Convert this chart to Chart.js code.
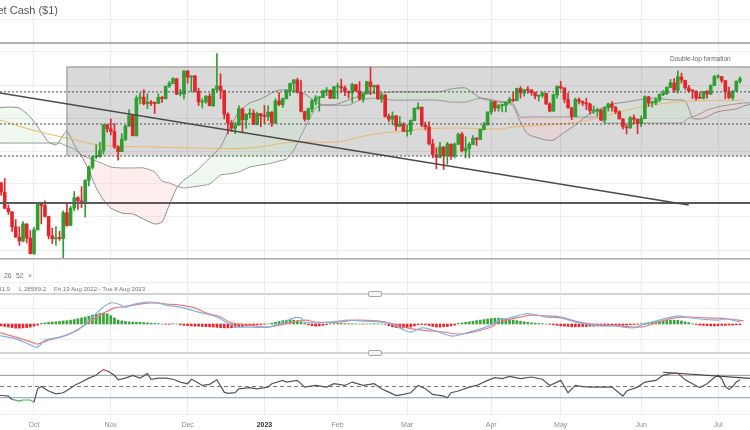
<!DOCTYPE html>
<html>
<head>
<meta charset="utf-8">
<script src="https://cdn.jsdelivr.net/npm/chart.js@4.4.0/dist/chart.umd.min.js"></script>
<style>
  body { margin: 0; width: 750px; height: 430px; overflow: hidden; background: #fff; position: relative;
         font-family: "Liberation Sans", Arial, sans-serif; }
  canvas { position: absolute; left: 0; }
  .txt { position: absolute; white-space: nowrap; color: #777; z-index: 5; }
  .sep { position: absolute; left: 0; width: 750px; height: 2px; background: #d5d5d5; z-index: 4; }
  .grip { position: absolute; left: 368px; width: 12px; height: 4px; border: 1px solid #a8a8a8; border-radius: 2px;
          background: #f3f3f3; z-index: 6; }
</style>
</head>
<body>
<canvas id="main" width="750" height="293" style="top:0"></canvas>
<canvas id="macd" width="750" height="55" style="top:296px"></canvas>
<canvas id="rsi" width="750" height="80" style="top:355px"></canvas>

<div class="txt" style="left:-140px;width:198px;text-align:right;top:4px;font-size:11px;color:#555">Wall Street Cash ($1)</div>
<div class="txt" style="left:-60px;top:272px;font-size:6.8px">Ichimoku 9</div>
<div class="txt" style="left:4px;top:272px;font-size:6.8px">26</div>
<div class="txt" style="left:16px;top:272px;font-size:6.8px">52</div>
<div class="txt" style="left:28px;top:272px;font-size:6.8px">×</div>
<div class="txt" style="left:-60px;width:70px;text-align:right;top:285px;font-size:6.2px">H 35641.9</div>
<div class="txt" style="left:19px;top:285px;font-size:6.2px">L 28589.2</div>
<div class="txt" style="left:54px;top:285px;font-size:6.1px">Fri 19 Aug 2022 - Tue 8 Aug 2023</div>
<div class="txt" style="left:670px;top:55px;font-size:6.5px;color:#666">Double-top formation</div>

<div class="sep" style="top:293px"></div><div class="grip" style="top:291px"></div>
<div class="sep" style="top:352px"></div><div class="grip" style="top:350px"></div>

<script>
// Wall Street Cash, daily candles 19 Sep 2022 .. 12 Jul 2023 (trading-day index 0..203)
const open = [
  30800,31000,30700,30180,30070,29590,29260,29130,29680,29230,
  28730,29490,30310,30270,29920,29300,29200,29240,29210,30040,
  29630,30190,30520,30420,30330,31080,31500,31840,31840,32030,
  32860,32730,32650,32150,32000,32400,32830,33160,32510,33720,
  33750,33540,33590,33550,33550,33740,33700,34100,34190,34340,
  33850,33850,34590,34390,34430,33940,33590,33600,33780,33470,
  34000,34100,33960,33200,32920,32750,32850,33370,33020,33200,
  33240,32870,33220,33140,33130,33260,32930,33630,33510,33700,
  33970,34190,34300,33910,33290,33040,33370,33630,33730,33740,
  33950,33970,33710,34080,34090,34050,33920,33890,34150,33940,
  33690,33860,34240,34080,34120,33690,33820,33130,33040,33150,
  32810,32880,32650,32660,33000,33390,33430,32850,32790,32250,
  31900,31820,32150,31870,32240,31860,32240,32560,32030,32100,
  32230,32430,32390,32710,32860,33270,33600,33400,33480,33480,
  33580,33680,33640,34030,33880,33980,33970,33890,33780,33800,
  33870,33530,33300,33820,34090,34050,33680,33410,33120,33670,
  33610,33560,33530,33300,33300,33340,33010,33410,33530,33420,
  33280,33050,32790,32760,33090,33040,32900,33060,33760,33560,
  33570,33660,33830,33870,34060,34210,33970,34400,34290,34050,
  33950,33940,33720,33710,33920,33850,34120,34400,34410,34280,
  33920,33730,33940,34260
];
const high = [
  31050,31010,31140,30290,30080,29820,29590,29760,29690,29470,
  29570,30330,30340,30420,29930,29540,29600,29450,30100,30360,
  30250,30720,30560,30880,31100,31550,31850,32220,32300,32880,
  32880,33050,32900,32200,32580,32850,33350,33170,33800,33880,
  33990,33860,33650,33600,33860,33780,34110,34260,34380,34350,
  34000,34600,34600,34440,34450,34040,33700,33800,33860,34030,
  35150,34500,33970,33250,33000,32950,33480,33400,33220,33380,
  33350,33270,33230,33480,33470,33290,33700,33900,33720,33980,
  34200,34320,34360,34300,33300,33400,33680,33800,33760,33980,
  34060,33990,34100,34200,34330,34110,33950,34200,34160,34250,
  33900,34260,34720,34140,34150,33860,33830,33210,33280,33160,
  33130,32930,32860,33020,33410,33570,33430,32950,32960,32400,
  32130,32300,32160,32300,32250,32280,32600,32620,32480,32300,
  32520,32460,32730,32940,33280,33620,33620,33520,33530,33600,
  33750,33900,34040,34090,34000,34090,34000,33910,33830,33920,
  33880,33570,33850,34110,34260,34050,33880,33420,33720,33730,
  33630,33720,33560,33470,33400,33350,33440,33560,33610,33460,
  33310,33060,32880,33130,33180,33050,33150,33790,33780,33630,
  33720,33860,33960,34080,34320,34350,34590,34520,34300,34130,
  33990,33950,33900,33940,33970,34150,34450,34470,34420,34290,
  34070,33960,34280,34400
];
const low = [
  30700,30600,30170,29990,29440,29250,29000,29100,29070,28715,
  28700,29490,29680,29900,29200,29050,29000,29150,28589,29600,
  29630,30100,30150,30200,29900,30900,31440,31770,31820,31920,
  32630,32540,32100,31730,32000,32350,32800,32500,32500,33530,
  33500,33380,33480,33230,33540,33580,33690,34060,34180,33830,
  33790,33690,34200,33920,33910,33480,33400,33550,33470,33450,
  33900,33700,33050,32570,32650,32580,32850,32600,32750,33080,
  32870,32860,32800,32900,33000,32810,32900,33480,33420,33690,
  33800,33900,33880,33280,32980,33030,33280,33500,33300,33730,
  33800,33700,33700,33700,33900,33800,33720,33580,33940,33650,
  33590,33860,33830,33860,33680,33580,33110,32960,32870,32680,
  32800,32640,32500,32550,32990,33350,32800,32700,32220,31800,
  31450,31800,31429,31600,31750,31800,32230,31990,31800,31800,
  32230,32200,32390,32700,32850,33200,33300,33300,33280,33280,
  33560,33600,33630,33720,33780,33870,33810,33690,33630,33740,
  33520,33280,33300,33720,34000,33570,33390,33030,33120,33530,
  33480,33350,33210,33220,33140,33000,32930,33300,33300,33220,
  33040,32720,32570,32750,32890,32580,32800,33060,33450,33430,
  33500,33600,33800,33830,34050,33900,33880,34200,34000,33900,
  33700,33650,33700,33690,33720,33830,34120,34350,34220,33700,
  33700,33660,33930,34200
];
const close = [
  31019,30706,30184,30077,29590,29260,29135,29684,29226,28726,
  29491,30317,30274,29927,29297,29203,29240,29211,30039,29635,
  30186,30524,30424,30334,31083,31500,31837,31840,32034,32862,
  32733,32653,32148,32001,32403,32827,33161,32514,33716,33748,
  33537,33593,33554,33547,33746,33700,34098,34195,34347,33850,
  33853,34590,34395,34430,33947,33596,33598,33781,33476,34006,
  34108,33966,33203,32920,32758,32850,33377,33027,33204,33241,
  32876,33221,33147,33136,33270,32930,33631,33518,33704,33974,
  34190,34303,33911,33297,33045,33375,33630,33734,33744,33949,
  33978,33717,34086,34093,34053,33926,33891,34156,33949,33699,
  33869,34246,34089,34128,33697,33827,33130,33045,33154,32817,
  32889,32657,32662,33004,33391,33432,32856,32798,32255,31910,
  31820,32155,31875,32247,31862,32245,32561,32030,32106,32238,
  32433,32395,32718,32860,33274,33601,33403,33483,33486,33587,
  33685,33647,34030,33887,33987,33977,33897,33787,33809,33876,
  33531,33302,33827,34098,34051,33684,33415,33128,33675,33619,
  33562,33531,33310,33301,33349,33012,33420,33535,33427,33286,
  33056,32800,32765,33093,33043,32908,33061,33763,33563,33573,
  33665,33834,33877,34066,34212,33979,34408,34299,34054,33952,
  33946,33727,33715,33927,33853,34122,34408,34418,34288,33922,
  33735,33944,34262,34347
];

// month ticks (first trading day of each month)
const monthTickIdx = [10, 31, 52, 73, 93, 112, 135, 154, 176, 197];
const monthTickLabels = ['Oct', 'Nov', 'Dec', '2023', 'Feb', 'Mar', 'Apr', 'May', 'Jun', 'Jul'];

// Ichimoku cloud
const cloudIdx = [0,3,6,9,12,14,16,17,19,21,23,25,27,29,31,34,37,40,43,45,47,49,51,53,55,58,61,63,66,69,
  72,75,77,79,81,84,87,89,92,96,99,101,103,105,108,112,115,118,120,122,124,126,128,130,132,134,137,139,140,141,
  143,145,150,152,154,156,158,160,162,164,166,168,172,175,177,180,182,185,187,188,189,190,192,194,196,198,200,202,204,206];
const spanA = [33402,33434,33402,33113,32632,32311,32215,32343,32664,32215,31861,31412,30834,30449,30192,30032,30000,29839,29679,29743,
  30289,30834,31091,31252,31444,31797,32150,32632,33274,33563,33691,33884,33980,33980,33948,33852,33595,33499,33499,33659,
  33787,33852,33884,33884,33916,33916,33916,33916,33916,33948,34012,34044,34044,33884,33723,33659,33595,33563,33531,33466,
  32953,32568,32375,32375,32536,32696,32857,33049,33210,33338,33434,33531,33595,33659,33691,33723,33691,33659,33659,33627,
  33402,33081,33049,33113,33242,33306,33338,33370,33466,33531];
const spanB = [32279,32279,32279,32279,32279,32279,32279,32279,32182,32086,31894,31797,31701,31605,31508,31476,31476,31476,31348,31059,
  30995,30898,30834,30866,30898,30963,31252,31284,31348,31508,31573,31637,31701,31765,32054,32760,33402,33499,33499,33499,
  33659,33691,33723,33691,33659,33659,33659,33659,33659,33627,33595,33595,33595,33659,33723,33691,33627,33595,33563,33531,
  33113,33113,33113,33113,33113,33113,33113,33113,33113,33113,32921,32921,32921,32921,32921,32921,32921,32921,32921,32985,
  33081,33113,33210,33338,33402,33466,33499,33531,33563,33563];

// moving average (orange)
const maIdx = [0,10,19,28,42,55,69,81,93,99,105,109,116,126,137,141,150,159,165,170,176,183,191,204];
const maVals = [33040,32680,32439,32215,32150,32118,32118,32311,32311,32471,32600,32632,32728,32760,32728,32792,32857,32953,
  33113,33274,33434,33563,33627,33659];

// drawn levels
const boxRange = [31860, 34720];
const boxStartIdx = 19;
const dottedLevels = [33920, 32890, 31860];
const solidLevels = [35490, 30350, 28560];
const trendIdx = [0, 189];
const trendVals = [33900, 30290];

// MACD (12, 26, 9)
const macdIdx = [0,4,6,9,11,13,17,22,26,29,31,33,35,37,41,44,46,50,53,55,60,64,66,69,74,78,81,83,84,87,91,96,99,105,107,
  110,113,116,119,124,126,129,133,136,137,141,144,146,150,154,159,165,169,171,174,176,181,186,188,192,197,199,203];
const macdLine = [-400,-500,-580,-750,-830,-580,-470,-220,250,610,760,720,610,700,790,760,680,610,500,430,250,-40,-110,-110,-110,
  40,220,220,70,40,70,140,110,70,40,-140,-290,-140,-220,-430,-400,-290,-140,40,140,250,360,360,250,220,40,-70,-70,-110,-140,
  -40,140,290,250,180,140,180,70];
const signalIdx = [0,5,10,11,14,19,23,28,32,34,37,42,46,50,54,57,61,64,69,74,80,84,87,93,98,104,107,111,116,122,126,129,135,
  137,142,146,150,154,159,165,170,176,180,185,189,194,200,204];
const signalLine = [-290,-470,-680,-720,-580,-400,-110,320,580,610,680,760,720,680,580,400,250,40,-40,-110,40,140,70,70,140,110,
  40,-110,-220,-290,-360,-320,-110,70,220,320,290,250,70,-40,-70,-110,40,220,250,220,180,110];
const macdHist = [
  -60,-70,-90,-110,-130,-150,-150,-140,-130,-110,-80,-40,
  20,40,60,70,80,90,110,120,140, 160,190,220,250,280,320,350, 380,390,370,300,220,
  140,110,90,80,70,60,60,50,40, 30,20,10,0,-10,-10,10,0,
  -30,-50,-60,-70,-80,-80,-90,-100,-100,-110,-120,-130,-140,-140,-130,-120,-100,-90,-70,-60,
  -40,-30,-20,-10,0, 30,60,90,120,140,150,140,120,80,30, -30,-60,-80,-70,-50,-20,
  10,15,20,20,15,10,10,5,0,-5,0,5,10,5,0,-10, -60,-100,-130,-140,-140,-130,-110,-70, -30,-20,-30,
  -60,-90,-110,-110,-100,-90,-70,-40, 20,40,60,80,100,120,140,160,180,200,210,210,
  200,180,160,140,120,100,80,60,40,30,20,10,0,-10,
  -30,-50,-70,-80,-90,-100,-100,-100,-90,-90,-80,-80,-70,-70,-70,-60,-60,-60,-50,-50,-40,-30,-20,-10,10,30,
  50,70,90,110,120,130,140,140,130,110,80,50,
  10,-20,-40,-50,-60,-70,-70,-60,-50,-50,-40,-40,-30,-30
];

// RSI (14)
const rsiIdx = [0,3,4,6,7,9,10,11,12,14,16,18,20,21,23,25,27,28,29,30,32,33,35,37,39,41,42,44,46,48,50,52,53,54,56,58,60,
  62,63,65,66,69,71,74,75,78,79,82,84,87,90,92,95,97,100,103,105,107,109,111,113,115,117,119,122,123,124,126,129,131,134,
  136,138,140,143,146,149,151,154,156,158,160,162,165,168,171,172,175,177,180,182,184,186,188,190,192,194,196,197,198,199,
  200,201,202,203];
const rsiVals = [35,33,27,24,26,26,22,46,50,42,37,39,47,52,58,65,70,76,80,78,70,62,65,70,65,73,63,65,65,63,58,55,63,60,52,54,62,
  40,38,39,46,48,46,49,55,61,58,61,49,52,49,55,52,58,52,55,46,40,34,36,39,52,46,36,33,30,39,42,49,52,61,
  66,64,68,64,67,63,52,61,39,52,50,49,49,49,33,42,49,58,61,70,73,74,62,55,48,55,66,70,64,50,
  45,50,58,62];
const rsiLevels = [70, 50, 30];
const rsiTrendIdx = [182, 206];
const rsiTrendVals = [75.5, 64.5];

const FONT = '"Liberation Sans", Arial, sans-serif';
const UP = '#2f9f2f', DOWN = '#e3262b';
const X_MIN = 0.71, X_MAX = 205.74;

function xAxis(showLabels) {
  return {
    type: 'linear', min: X_MIN, max: X_MAX, offset: false,
    afterBuildTicks: s => { s.ticks = monthTickIdx.map(v => ({ value: v })); },
    grid: { color: '#ececec', drawTicks: false, offset: false },
    border: { display: false },
    ticks: {
      display: showLabels, padding: 6, maxRotation: 0, autoSkip: false,
      callback: v => monthTickLabels[monthTickIdx.indexOf(v)],
      color: c => (c.tick && c.tick.value === 73) ? '#333' : '#8d8d8d',
      font: c => ({ family: FONT, size: 7, weight: (c.tick && c.tick.value === 73) ? 'bold' : 'normal' })
    }
  };
}
function yAxis(min, max, gridVals) {
  return {
    type: 'linear', min, max,
    afterBuildTicks: s => { s.ticks = gridVals.map(v => ({ value: v })); },
    grid: { color: '#efefef', drawTicks: false },
    border: { display: false },
    ticks: { display: false }
  };
}
const baseOpts = {
  responsive: false, animation: false, events: [],
  layout: { padding: 0 },
  plugins: { legend: { display: false }, tooltip: { enabled: false } }
};

const days = close.map((c, i) => i);
const candleColor = c => close[c.dataIndex] >= open[c.dataIndex] ? UP : DOWN;

function hline(ctx, chart, v, color, width, dash) {
  const y = chart.scales.y.getPixelForValue(v);
  ctx.save();
  ctx.strokeStyle = color; ctx.lineWidth = width; ctx.setLineDash(dash || []);
  ctx.beginPath(); ctx.moveTo(chart.chartArea.left, y); ctx.lineTo(chart.chartArea.right, y); ctx.stroke();
  ctx.restore();
}
function segment(ctx, chart, xs, vs, color, width) {
  const { x, y } = chart.scales;
  ctx.save();
  ctx.strokeStyle = color; ctx.lineWidth = width;
  ctx.beginPath();
  ctx.moveTo(x.getPixelForValue(xs[0]), y.getPixelForValue(vs[0]));
  ctx.lineTo(x.getPixelForValue(xs[1]), y.getPixelForValue(vs[1]));
  ctx.stroke();
  ctx.restore();
}

const mainAnnot = {
  id: 'mainAnnot',
  beforeDatasetsDraw(chart) {
    const { ctx, chartArea: a, scales: { x, y } } = chart;
    const x0 = x.getPixelForValue(boxStartIdx);
    const yt = y.getPixelForValue(boxRange[1]), yb = y.getPixelForValue(boxRange[0]);
    ctx.save();
    ctx.fillStyle = 'rgba(0,0,0,0.15)';
    ctx.fillRect(x0, yt, a.right - x0, yb - yt);
    ctx.restore();
  },
  afterDatasetsDraw(chart) {
    const { ctx, chartArea: a, scales: { x, y } } = chart;
    const x0 = x.getPixelForValue(boxStartIdx);
    const yt = y.getPixelForValue(boxRange[1]), yb = y.getPixelForValue(boxRange[0]);
    ctx.save();
    ctx.strokeStyle = '#8a8a8a'; ctx.lineWidth = 1;
    ctx.beginPath(); ctx.moveTo(x0, yb); ctx.lineTo(x0, yt); ctx.lineTo(a.right, yt); ctx.stroke();
    ctx.restore();
    dottedLevels.forEach(v => hline(ctx, chart, v, '#505050', 1, [2, 2]));
    hline(ctx, chart, solidLevels[0], '#999', 1.5);
    hline(ctx, chart, solidLevels[1], '#5a5a5a', 2);
    hline(ctx, chart, solidLevels[2], '#aaa', 1.5);
    segment(ctx, chart, trendIdx, trendVals, '#4a4a4a', 1.5);
  }
};

new Chart(document.getElementById('main'), {
  type: 'line',
  data: {
    datasets: [
      { type: 'bar', data: days.map(i => ({ x: i, y: [open[i], close[i]] })), backgroundColor: candleColor,
        barThickness: 3, minBarLength: 1, grouped: false },
      { type: 'bar', data: days.map(i => ({ x: i, y: [low[i], high[i]] })), backgroundColor: candleColor,
        barThickness: 1, grouped: false },
      { data: maIdx.map((v, k) => ({ x: v, y: maVals[k] })), borderColor: '#e9b767', borderWidth: 1,
        pointRadius: 0, tension: 0.4, fill: false },
      { data: cloudIdx.map((v, k) => ({ x: v, y: spanA[k] })), borderColor: '#8c8c8c', borderWidth: 1,
        pointRadius: 0, tension: 0.2,
        fill: { target: '+1', above: 'rgba(200,235,200,0.28)', below: 'rgba(250,200,200,0.32)' } },
      { data: cloudIdx.map((v, k) => ({ x: v, y: spanB[k] })), borderColor: '#8c8c8c', borderWidth: 1,
        pointRadius: 0, tension: 0.2, fill: false }
    ]
  },
  options: Object.assign({}, baseOpts, {
    scales: {
      x: xAxis(false),
      y: yAxis(27464, 36869, [36259, 35200, 34140, 33081, 32022, 30963, 29904, 28844, 27785])
    }
  }),
  plugins: [mainAnnot]
});

new Chart(document.getElementById('macd'), {
  type: 'line',
  data: {
    datasets: [
      { data: macdIdx.map((v, k) => ({ x: v, y: macdLine[k] })), borderColor: '#7fb3e6', borderWidth: 1.2,
        pointRadius: 0, tension: 0.4 },
      { data: signalIdx.map((v, k) => ({ x: v, y: signalLine[k] })), borderColor: '#f07a7a', borderWidth: 1.2,
        pointRadius: 0, tension: 0.4 },
      { type: 'bar', data: macdHist.map((v, i) => ({ x: i, y: v })), grouped: false, barThickness: 2,
        backgroundColor: c => macdHist[c.dataIndex] >= 0 ? '#3aa23a' : '#e8262b' }
    ]
  },
  options: Object.assign({}, baseOpts, {
    scales: { x: xAxis(false), y: yAxis(-972, 1008, [540, -540]) }
  })
});

const rsiAnnot = {
  id: 'rsiAnnot',
  beforeDatasetsDraw(chart) {
    const ctx = chart.ctx;
    hline(ctx, chart, rsiLevels[0], '#a9a9a9', 1.2);
    hline(ctx, chart, rsiLevels[1], '#777', 1, [4, 3]);
    hline(ctx, chart, rsiLevels[2], '#8799bf', 1.2);
  },
  afterDatasetsDraw(chart) {
    segment(chart.ctx, chart, rsiTrendIdx, rsiTrendVals, '#444', 1.2);
  }
};

new Chart(document.getElementById('rsi'), {
  type: 'line',
  data: {
    datasets: [
      { data: rsiIdx.map((v, k) => ({ x: v, y: rsiVals[k] })), borderColor: '#555', borderWidth: 1.2,
        pointRadius: 0, tension: 0,
        segment: {
          borderColor: c => (c.p0.parsed.y > 70 && c.p1.parsed.y > 70) ? '#e0474c'
                         : (c.p0.parsed.y < 30 && c.p1.parsed.y < 30) ? '#46b446' : undefined
        } }
    ]
  },
  options: Object.assign({}, baseOpts, {
    layout: { padding: { top: 3.5 } },
    scales: { x: xAxis(true), y: yAxis(0, 100, [0, 100]) }
  }),
  plugins: [rsiAnnot]
});
</script>
</body>
</html>
